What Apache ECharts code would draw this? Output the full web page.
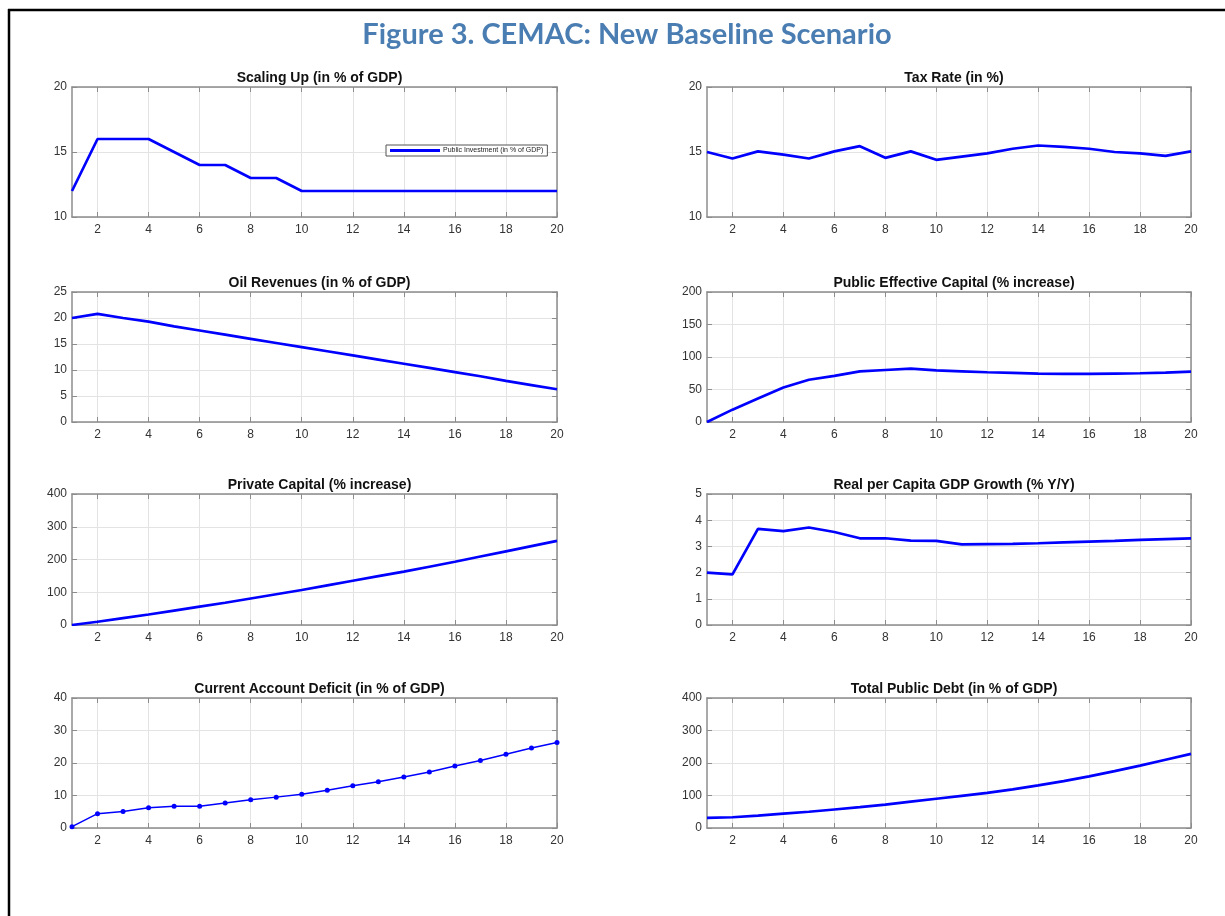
<!DOCTYPE html>
<html>
<head>
<meta charset="utf-8">
<script src="https://cdn.jsdelivr.net/npm/echarts@6/dist/echarts.min.js"></script>
<style>
html,body{margin:0;padding:0;background:#fff;}
#c{width:1225px;height:916px;}
</style>
</head>
<body>
<div id="c"></div>
<script>
const years = [1,2,3,4,5,6,7,8,9,10,11,12,13,14,15,16,17,18,19,20];
const xTicks = [2,4,6,8,10,12,14,16,18,20];

const scalingUp = [12,16,16,16,15,14,14,13,13,12,12,12,12,12,12,12,12,12,12,12];
const taxRate = [15.0,14.5,15.05,14.8,14.5,15.05,15.45,14.55,15.05,14.4,14.65,14.9,15.25,15.5,15.4,15.25,15.0,14.9,14.7,15.05];
const oilRevenues = [20.0,20.8,20.0,19.3,18.4,17.6,16.8,16.0,15.2,14.4,13.6,12.8,12.0,11.2,10.4,9.6,8.8,7.9,7.1,6.3];
const publicCapital = [0,19,36,53,65,71,78,80,82,79.5,78,76.5,75.5,74.5,74,74,74.5,75,76,77.5];
const privateCapital = [0,10,21,32,44,56,68,81,94,107,121,135,149,163,178,193,209,225,241,257];
const gdpGrowth = [2.0,1.93,3.67,3.58,3.72,3.55,3.31,3.31,3.22,3.21,3.08,3.09,3.1,3.12,3.15,3.18,3.21,3.25,3.28,3.31];
const currentAccount = [0.4,4.4,5.1,6.2,6.7,6.7,7.7,8.7,9.5,10.4,11.6,13.0,14.2,15.7,17.2,19.1,20.8,22.7,24.6,26.3];
const publicDebt = [31,33,38,44,50,57,64,72,81,90,99,108,119,131,144,159,175,192,210,228];

const panels = [
  {title:'Scaling Up (in % of GDP)', data:scalingUp, min:10, max:20, interval:5, name:'Public Investment (in % of GDP)'},
  {title:'Tax Rate (in %)', data:taxRate, min:10, max:20, interval:5},
  {title:'Oil Revenues (in % of GDP)', data:oilRevenues, min:0, max:25, interval:5},
  {title:'Public Effective Capital (% increase)', data:publicCapital, min:0, max:200, interval:50},
  {title:'Private Capital (% increase)', data:privateCapital, min:0, max:400, interval:100},
  {title:'Real per Capita GDP Growth (% Y/Y)', data:gdpGrowth, min:0, max:5, interval:1},
  {title:'Current Account Deficit (in % of GDP)', data:currentAccount, min:0, max:40, interval:10, markers:true},
  {title:'Total Public Debt (in % of GDP)', data:publicDebt, min:0, max:400, interval:100}
];

const FONT = "'Liberation Sans Narrow','Arial Narrow','Liberation Sans',Arial,sans-serif";
const colLeft = [72, 707];
const colWidth = [485, 484];
const rowTop = [87, 292, 494, 698];
const rowHeight = [130, 130, 131, 130];
const axisColor = '#8c8c8c';
const gridColor = '#e3e3e3';
const labelColor = '#333';

const grid = [], xAxis = [], yAxis = [], series = [], titles = [];

panels.forEach((p, i) => {
  const col = i % 2, row = Math.floor(i / 2);
  grid.push({left: colLeft[col], top: rowTop[row], width: colWidth[col], height: rowHeight[row], containLabel:false});
  const tickStyle = {show:true, inside:true, length:5, lineStyle:{color:axisColor}};
  xAxis.push({
    type:'value', gridIndex:i, min:1, max:20, position:'bottom',
    axisLine:{show:true, onZero:false, lineStyle:{color:axisColor, width:1.5}},
    axisTick:Object.assign({customValues:xTicks}, tickStyle),
    axisLabel:{customValues:xTicks, color:labelColor, fontFamily:FONT, fontSize:12, margin:7},
    splitLine:{show:true, lineStyle:{color:gridColor, width:1}}
  });
  xAxis.push({
    type:'value', gridIndex:i, min:1, max:20, position:'top',
    axisLine:{show:true, onZero:false, lineStyle:{color:axisColor, width:1.5}},
    axisTick:Object.assign({customValues:xTicks}, tickStyle),
    axisLabel:{show:false}, splitLine:{show:false}
  });
  yAxis.push({
    type:'value', gridIndex:i, min:p.min, max:p.max, interval:p.interval, position:'left',
    axisLine:{show:true, onZero:false, lineStyle:{color:axisColor, width:1.5}},
    axisTick:tickStyle,
    axisLabel:{color:labelColor, fontFamily:FONT, fontSize:12, margin:5},
    splitLine:{show:true, lineStyle:{color:gridColor, width:1}}
  });
  yAxis.push({
    type:'value', gridIndex:i, min:p.min, max:p.max, interval:p.interval, position:'right',
    axisLine:{show:true, onZero:false, lineStyle:{color:axisColor, width:1.5}},
    axisTick:tickStyle, axisLabel:{show:false}, splitLine:{show:false}
  });
  series.push({
    type:'line', name:p.name || p.title, xAxisIndex:2*i, yAxisIndex:2*i,
    data: years.map((y, k) => [y, p.data[k]]),
    showSymbol: !!p.markers, symbol:'circle', symbolSize:5,
    itemStyle:{color:'#0000ff'},
    lineStyle:{color:'#0000ff', width: p.markers ? 1.5 : 2.7},
    animation:false, silent:true, z:3
  });
  titles.push({
    text:p.title, left: colLeft[col] + colWidth[col]/2, textAlign:'center',
    top: rowTop[row] - 21,
    textStyle:{fontFamily:FONT, fontSize:14, fontWeight:'bold', color:'#111'}
  });
});

titles.push({
  text:'Figure 3. CEMAC: New Baseline Scenario', left:622, textAlign:'center', top:15,
  textStyle:{fontFamily:"Lato,'Open Sans',sans-serif", fontSize:29, fontWeight:'bold', color:'#4a7db1'}
});

const chart = echarts.init(document.getElementById('c'), null, {renderer:'canvas'});
chart.setOption({
  animation:false,
  backgroundColor:'#fff',
  title: titles,
  grid, xAxis, yAxis, series,
  legend:{
    show:true, data:['Public Investment (in % of GDP)'],
    left:386, top:145, orient:'horizontal',
    itemWidth:50, itemHeight:3, itemGap:4,
    icon:'rect',
    padding:[2,4,2,4],
    borderColor:'#555', borderWidth:1, backgroundColor:'#fff',
    textStyle:{fontFamily:FONT, fontSize:7, color:'#222', padding:[0,0,0,-2]}
  },
  graphic:[
    {type:'line', shape:{x1:8, y1:10, x2:1225, y2:10}, style:{stroke:'#000', lineWidth:2.5}, silent:true},
    {type:'line', shape:{x1:9, y1:9, x2:9, y2:916}, style:{stroke:'#000', lineWidth:2.5}, silent:true}
  ]
});
</script>
</body>
</html>
